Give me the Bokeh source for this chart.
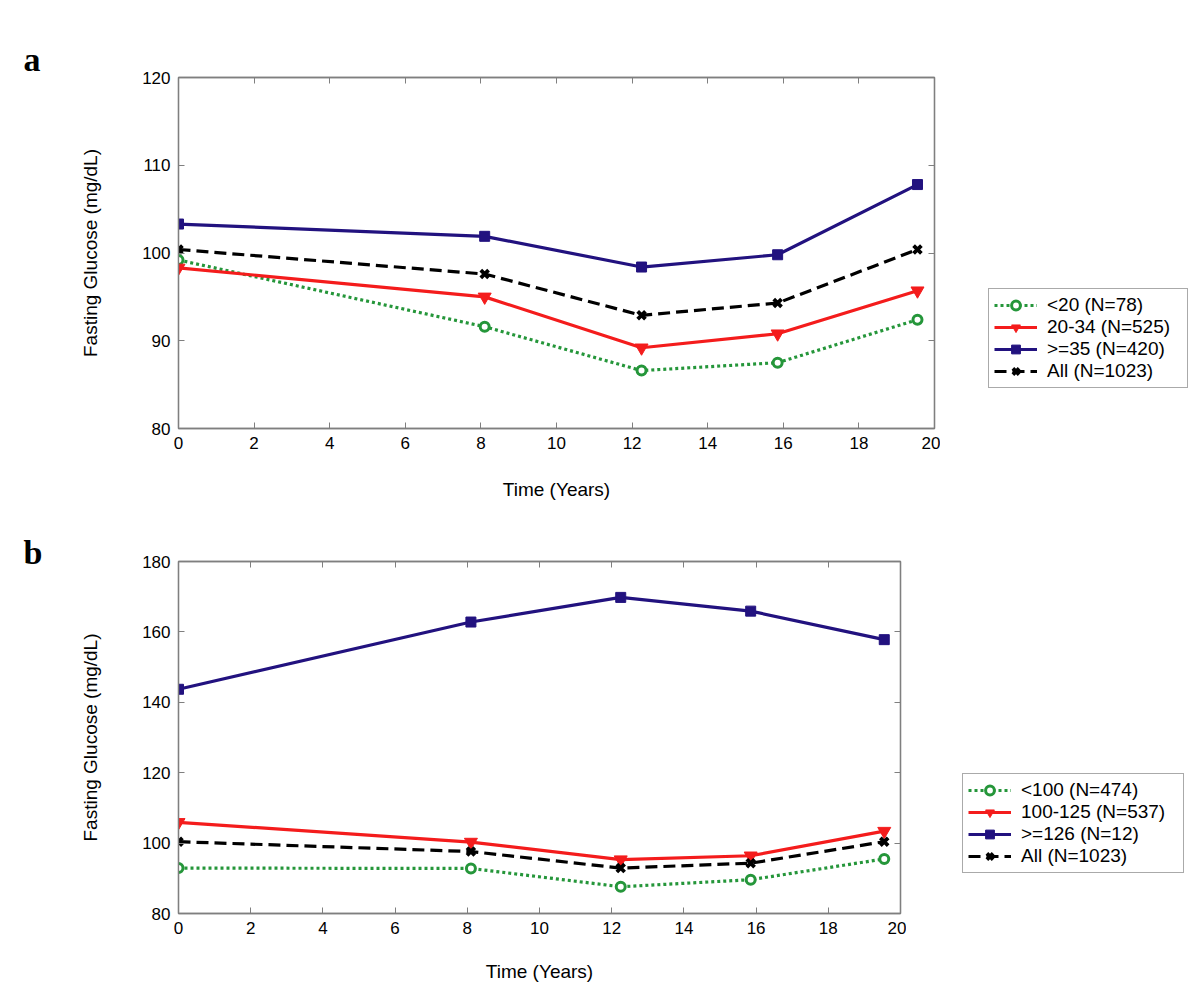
from bokeh.plotting import figure
from bokeh.models import (Legend, LegendItem, LinearAxis, Range1d, FixedTicker,
                          CustomJSTickFormatter)
from bokeh.layouts import column, row
from bokeh.embed import file_html
from bokeh.resources import INLINE

# ---------------- data ----------------
years = [0, 8.1, 12.25, 15.85, 19.55]

# Panel a: BMI groups
a_labels = ["<20 (N=78)", "20-34 (N=525)", ">=35 (N=420)", "All (N=1023)"]
a_lt20 = [99.2, 91.6, 86.6, 87.5, 92.4]
a_20_34 = [98.3, 95.0, 89.2, 90.8, 95.7]
a_ge35 = [103.3, 101.9, 98.4, 99.8, 107.8]
a_all = [100.4, 97.6, 92.9, 94.3, 100.4]

# Panel b: baseline glucose groups
b_labels = ["<100 (N=474)", "100-125 (N=537)", ">=126 (N=12)", "All (N=1023)"]
b_lt100 = [92.9, 92.8, 87.6, 89.6, 95.5]
b_100_125 = [105.9, 100.3, 95.3, 96.4, 103.4]
b_ge126 = [143.7, 162.8, 169.8, 165.9, 157.8]
b_all = [100.4, 97.6, 92.9, 94.3, 100.4]

x_ticks = [0, 2, 4, 6, 8, 10, 12, 14, 16, 18, 20]
a_yticks = [80, 90, 100, 110, 120]
b_yticks = [80, 100, 120, 140, 160, 180]

GREEN = "#25963a"
RED = "#f41c1c"
BLUE = "#22127f"
BLACK = "#000000"
FONT = "Liberation Sans"


def style_axis(ax, show_labels=True):
    ax.axis_line_color = "#7f7f7f"
    ax.axis_line_width = 1.3
    ax.major_tick_line_color = "#7f7f7f"
    ax.major_tick_in = 6
    ax.major_tick_out = 0
    ax.minor_tick_line_color = None
    ax.major_label_text_font = FONT
    ax.major_label_text_font_size = "17px"
    ax.major_label_text_color = "#000000"
    ax.axis_label_text_font = FONT
    ax.axis_label_text_font_size = "19px"
    ax.axis_label_text_font_style = "normal"
    ax.axis_label_text_color = "#000000"
    if not show_labels:
        ax.formatter = CustomJSTickFormatter(code="return ''")
        ax.major_label_standoff = 0


def draw_series(p, series):
    s_low, s_mid, s_high, s_all = series
    l1 = p.line(years, s_low, line_color=GREEN, line_width=3.2, line_dash="3 3")
    m1 = p.scatter(years, s_low, marker="circle", size=9, line_color=GREEN, line_width=3,
                   fill_color="white")
    l2 = p.line(years, s_mid, line_color=RED, line_width=3.2)
    m2 = p.scatter(years, s_mid, marker="inverted_triangle", size=13, line_color=RED,
                   fill_color=RED)
    l3 = p.line(years, s_high, line_color=BLUE, line_width=3.2)
    m3 = p.scatter(years, s_high, marker="square", size=10, line_color=BLUE,
                   fill_color=BLUE)
    l4 = p.line(years, s_all, line_color=BLACK, line_width=3.2, line_dash="12 6")
    m4 = p.scatter(years, s_all, marker="x", size=11, line_color=BLACK, line_width=3.8)
    return [[l1, m1], [l2, m2], [l3, m3], [l4, m4]]


def make_panel(series, yticks, ymin, ymax, frame_w, frame_h, top_b, bottom, label_sd,
               letter, title_standoff):
    p = figure(width=178 + frame_w + 6, height=top_b + frame_h + bottom,
               output_backend="svg", toolbar_location=None,
               x_range=Range1d(0, 20), y_range=Range1d(ymin, ymax),
               min_border_left=178, min_border_top=top_b, min_border_bottom=bottom,
               min_border_right=6)
    p.title.text = letter
    p.title.text_font = "Liberation Serif"
    p.title.text_font_style = "bold"
    p.title.text_font_size = "34px"
    p.title.text_color = "#000000"
    p.title.offset = -155
    p.title.standoff = title_standoff
    p.outline_line_color = "#7f7f7f"
    p.outline_line_width = 1.3
    p.grid.visible = False
    p.xaxis.ticker = FixedTicker(ticks=x_ticks)
    p.yaxis.ticker = FixedTicker(ticks=yticks)
    p.xaxis.axis_label = "Time (Years)"
    p.yaxis.axis_label = "Fasting Glucose (mg/dL)"
    p.xaxis.major_label_standoff = 8
    p.yaxis.major_label_standoff = 8
    p.xaxis.axis_label_standoff = label_sd
    p.yaxis.axis_label_standoff = 38
    for ax in p.xaxis + p.yaxis:
        style_axis(ax)
    top = LinearAxis(ticker=FixedTicker(ticks=x_ticks))
    right = LinearAxis(ticker=FixedTicker(ticks=yticks))
    style_axis(top, False)
    style_axis(right, False)
    p.add_layout(top, "above")
    p.add_layout(right, "right")
    draw_series(p, series)
    return p


def make_legend_fig(series, labels, width, height, loc, label_w):
    # a separate figure holding only the legend; its data lie outside its ranges
    f = figure(width=width, height=height, output_backend="svg", toolbar_location=None,
               x_range=Range1d(100, 101), y_range=Range1d(0, 1),
               x_axis_type=None, y_axis_type=None,
               min_border_left=0, min_border_right=0, min_border_top=0,
               min_border_bottom=0)
    f.outline_line_color = None
    f.grid.visible = False
    rends = draw_series(f, series)
    items = [LegendItem(label=lab, renderers=r) for lab, r in zip(labels, rends)]
    leg = Legend(items=items, location=loc)
    leg.label_text_font = FONT
    leg.label_text_font_size = "19px"
    leg.label_text_color = "#000000"
    leg.label_height = 22
    leg.glyph_height = 22
    leg.glyph_width = 43
    leg.label_width = label_w
    leg.spacing = 0
    leg.padding = 5
    leg.margin = 0
    leg.label_standoff = 10
    leg.border_line_color = "#555555"
    leg.border_line_width = 1
    leg.background_fill_alpha = 1
    f.add_layout(leg, "center")
    return f


pa = make_panel((a_lt20, a_20_34, a_ge35, a_all), a_yticks, 80, 120,
                756, 351, 77, 74, 27, "a", 0)
ha = 77 + 351 + 74
la = make_legend_fig((a_lt20, a_20_34, a_ge35, a_all), a_labels, 1190 - 940, ha,
                     (48, 40), 135)
pb = make_panel((b_lt100, b_100_125, b_ge126, b_all), b_yticks, 80, 180,
                722, 352, 561 - ha, 72, 24, "b", -18)
hb = 561 - ha + 352 + 72
lb = make_legend_fig((b_lt100, b_100_125, b_ge126, b_all), b_labels, 1190 - 906, hb,
                     (56, 40), 157)

layout = column(row(pa, la, spacing=0), row(pb, lb, spacing=0), spacing=0)
open("out.html", "w").write(file_html(layout, INLINE))
